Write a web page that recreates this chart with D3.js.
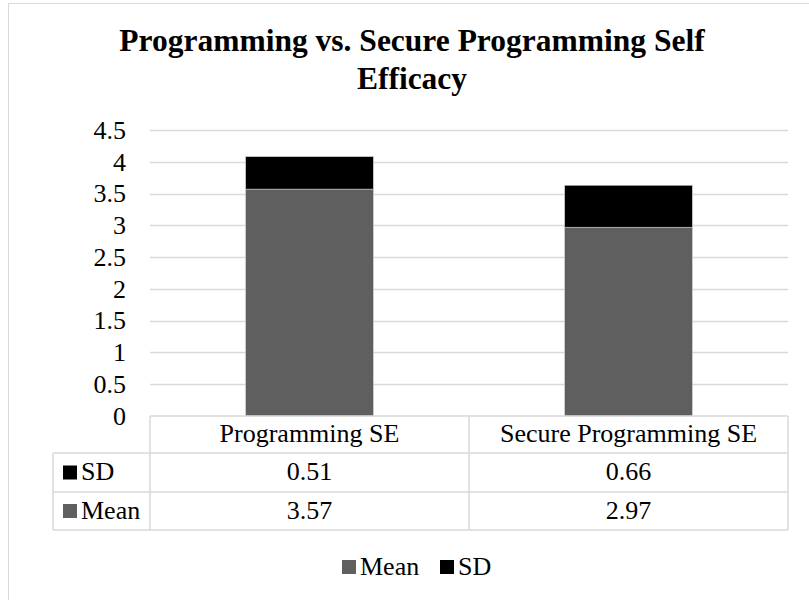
<!DOCTYPE html>
<html><head><meta charset="utf-8">
<script src="https://cdn.jsdelivr.net/npm/d3@7"></script>
<style>body{margin:0;background:#fff}svg{display:block}</style>
</head><body>
<script>
const categories = ["Programming SE", "Secure Programming SE"];
const seriesNames = ["Mean", "SD"];
const meanValues = [3.57, 2.97];
const sdValues = [0.51, 0.66];
const yTicks = [0, 0.5, 1, 1.5, 2, 2.5, 3, 3.5, 4, 4.5];
const titleLines = ["Programming vs. Secure Programming Self", "Efficacy"];
const colors = {Mean: "#5f5f5f", SD: "#000000"};

const W = 809, H = 600;
const svg = d3.select("body").append("svg").attr("width", W).attr("height", H);
const font = "'Liberation Serif', 'Times New Roman', serif";
const fs = 26;

// chart border
svg.append("rect").attr("x", 8.5).attr("y", 3.5).attr("width", 900).attr("height", 700)
  .attr("fill", "#fff").attr("stroke", "#d9d9d9").attr("stroke-width", 1);

// title
svg.append("text").attr("x", 412).attr("y", 51).attr("text-anchor", "middle")
  .attr("font-family", font).attr("font-weight", "bold").attr("font-size", 31.5)
  .selectAll("tspan").data(titleLines).join("tspan")
  .attr("x", 412).attr("dy", (d, i) => i === 0 ? 0 : 38).text(d => d);

const plotL = 150, plotR = 788, plotT = 130, plotB = 416;
const x = d3.scaleBand().domain(categories).range([plotL, plotR]).paddingInner(0.6).paddingOuter(0.3);
const xc = d3.scaleBand().domain(categories).range([plotL, plotR]);
const y = d3.scaleLinear().domain([0, 4.5]).range([plotB, plotT]);

// gridlines
svg.append("g").selectAll("line").data(yTicks.filter(d => d > 0)).join("line")
  .attr("x1", plotL).attr("x2", plotR).attr("y1", d => Math.round(y(d)) + 0.5).attr("y2", d => Math.round(y(d)) + 0.5)
  .attr("stroke", "#d9d9d9").attr("stroke-width", 1.3);

// y axis labels
const yAxis = d3.axisLeft(y).tickValues(yTicks).tickSize(0).tickPadding(0).tickFormat(d3.format("~g"));
const ga = svg.append("g").attr("transform", `translate(126,0)`).call(yAxis);
ga.select(".domain").remove();
ga.selectAll("text").attr("font-family", font).attr("font-size", fs).attr("fill", "#000").attr("dy", "0.32em");

// stacked bars
const rows = categories.map((c, i) => ({cat: c, Mean: meanValues[i], SD: sdValues[i]}));
const stack = d3.stack().keys(seriesNames)(rows);
svg.append("g").selectAll("g").data(stack).join("g").attr("fill", d => colors[d.key])
  .selectAll("rect").data(d => d).join("rect")
  .attr("x", d => x(d.data.cat)).attr("width", x.bandwidth())
  .attr("y", d => y(d[1])).attr("height", d => y(d[0]) - y(d[1]))
  .attr("stroke", "#c8c8c8").attr("stroke-width", 0.6);

// data table
const rowH = [416, 453, 492, 530];
const tableLeft = 53;
const tg = svg.append("g").attr("stroke", "#d9d9d9").attr("stroke-width", 1.5).attr("fill", "none");
tg.append("line").attr("x1", plotL).attr("x2", plotR).attr("y1", rowH[0]).attr("y2", rowH[0]);
[1, 2, 3].forEach(i => tg.append("line").attr("x1", tableLeft).attr("x2", plotR).attr("y1", rowH[i]).attr("y2", rowH[i]));
tg.append("line").attr("x1", tableLeft).attr("x2", tableLeft).attr("y1", rowH[1]).attr("y2", rowH[3]);
[plotL, plotL + xc.bandwidth(), plotR].forEach(v =>
  tg.append("line").attr("x1", v).attr("x2", v).attr("y1", rowH[0]).attr("y2", rowH[3]));

const tt = svg.append("g").attr("font-family", font).attr("font-size", fs).attr("fill", "#000").attr("text-anchor", "middle");
tt.selectAll("text.cat").data(categories).join("text").attr("class", "cat")
  .attr("x", d => xc(d) + xc.bandwidth() / 2).attr("y", (rowH[0] + rowH[1]) / 2).attr("dy", "0.3em").text(d => d);
const tableSeries = [{key: "SD", vals: sdValues, r: 1}, {key: "Mean", vals: meanValues, r: 2}];
tableSeries.forEach(s => {
  const cy = (rowH[s.r] + rowH[s.r + 1]) / 2;
  tt.selectAll(null).data(s.vals).join("text")
    .attr("x", (d, i) => xc(categories[i]) + xc.bandwidth() / 2).attr("y", cy).attr("dy", "0.3em")
    .text(d => d3.format(".2f")(d));
  svg.append("rect").attr("x", 63).attr("y", cy - 7).attr("width", 14).attr("height", 14).attr("fill", colors[s.key]);
  svg.append("text").attr("x", 81).attr("y", cy).attr("dy", "0.3em").attr("font-family", font)
    .attr("font-size", fs).text(s.key);
});

// legend
const legend = [{key: "Mean", x: 342}, {key: "SD", x: 440}];
legend.forEach(l => {
  svg.append("rect").attr("x", l.x).attr("y", 560).attr("width", 14).attr("height", 14).attr("fill", colors[l.key]);
  svg.append("text").attr("x", l.x + 18).attr("y", 575).attr("font-family", font)
    .attr("font-size", fs).text(l.key);
});
</script>
</body></html>
